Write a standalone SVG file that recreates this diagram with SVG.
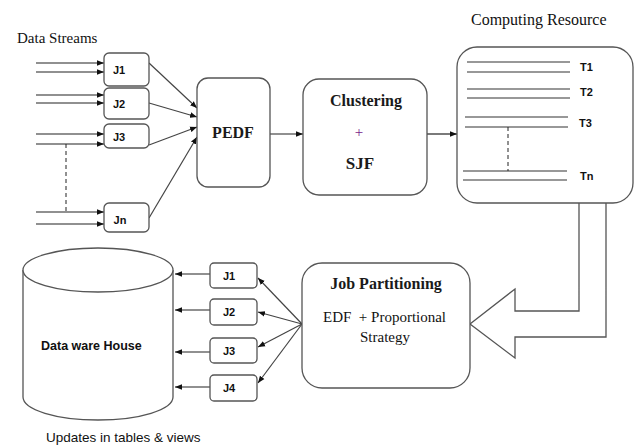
<svg xmlns="http://www.w3.org/2000/svg" width="635" height="445" viewBox="0 0 635 445">
<style>
.box{fill:#fff;stroke:#555;stroke-width:1.3}
.ln{stroke:#222;stroke-width:1.2;fill:none}
.gl{stroke:#444;stroke-width:1.2;fill:none}
.dash{stroke:#222;stroke-width:1;stroke-dasharray:4,3;fill:none}
.serif{font-family:"Liberation Serif",serif;fill:#111}
.sb{font-family:"Liberation Serif",serif;font-weight:bold;fill:#1a1a1a}
.sans{font-family:"Liberation Sans",Arial,sans-serif;fill:#111}
.jl{font-family:"Liberation Sans",Arial,sans-serif;font-weight:bold;font-size:11px;fill:#111}
</style>
<defs>
<marker id="ah" viewBox="0 0 10 10" refX="10" refY="5" markerWidth="7" markerHeight="7" orient="auto" markerUnits="userSpaceOnUse">
<path d="M0,1 L10,5 L0,9 z" fill="#111"/>
</marker>
</defs>
<rect width="635" height="445" fill="#fff"/>

<text class="serif" x="17" y="43" font-size="15">Data Streams</text>
<text class="serif" x="471" y="25" font-size="16">Computing Resource</text>
<text class="sans" x="46" y="442" font-size="13.5">Updates in tables &amp; views</text>

<g id="connectors">
<line class="ln" x1="36" y1="63" x2="104" y2="63" marker-end="url(#ah)"/>
<line class="ln" x1="36" y1="72" x2="104" y2="72" marker-end="url(#ah)"/>
<line class="ln" x1="36" y1="95" x2="104" y2="95" marker-end="url(#ah)"/>
<line class="ln" x1="36" y1="103" x2="104" y2="103" marker-end="url(#ah)"/>
<line class="ln" x1="36" y1="134" x2="104" y2="134" marker-end="url(#ah)"/>
<line class="ln" x1="36" y1="144" x2="104" y2="144" marker-end="url(#ah)"/>
<line class="ln" x1="36" y1="212" x2="104" y2="212" marker-end="url(#ah)"/>
<line class="ln" x1="36" y1="224" x2="104" y2="224" marker-end="url(#ah)"/>
<line class="dash" x1="66" y1="144" x2="66" y2="212"/>
<line class="gl" x1="149" y1="63" x2="197" y2="108" marker-end="url(#ah)"/>
<line class="gl" x1="149" y1="103" x2="197" y2="117" marker-end="url(#ah)"/>
<line class="gl" x1="149" y1="145" x2="197" y2="127" marker-end="url(#ah)"/>
<line class="gl" x1="149" y1="218" x2="197" y2="137" marker-end="url(#ah)"/>
<line class="ln" x1="270" y1="134" x2="303" y2="134" marker-end="url(#ah)"/>
<line class="ln" x1="427" y1="134" x2="457" y2="134" marker-end="url(#ah)"/>
<polyline points="579,203 579,311 515,311 515,289 470,324 515,358 515,337 606,337 606,203" fill="#fff" stroke="#555" stroke-width="1.3"/>
<line class="gl" x1="302" y1="324" x2="258" y2="278" marker-end="url(#ah)"/>
<line class="gl" x1="302" y1="324" x2="258" y2="312" marker-end="url(#ah)"/>
<line class="gl" x1="302" y1="324" x2="258" y2="347" marker-end="url(#ah)"/>
<line class="gl" x1="302" y1="324" x2="258" y2="383" marker-end="url(#ah)"/>
<line class="ln" x1="210" y1="274" x2="175" y2="274" marker-end="url(#ah)"/>
<line class="ln" x1="210" y1="310" x2="175" y2="310" marker-end="url(#ah)"/>
<line class="ln" x1="210" y1="352" x2="175" y2="352" marker-end="url(#ah)"/>
<line class="ln" x1="210" y1="387" x2="175" y2="387" marker-end="url(#ah)"/>
</g>

<g id="j1"><rect class="box" x="104" y="53" width="45" height="33" rx="5"/><text class="jl" x="119" y="74" text-anchor="middle">J1</text></g>
<g id="j2"><rect class="box" x="104" y="88" width="45" height="31" rx="5"/><text class="jl" x="119" y="108" text-anchor="middle">J2</text></g>
<g id="j3"><rect class="box" x="104" y="124" width="45" height="24" rx="5"/><text class="jl" x="119" y="141" text-anchor="middle">J3</text></g>
<g id="jn"><rect class="box" x="104" y="203" width="45" height="29" rx="5"/><text class="jl" x="120" y="224" text-anchor="middle">Jn</text></g>

<g id="pedf"><rect class="box" x="197" y="78" width="73" height="109" rx="11"/><text class="sb" x="233" y="138" font-size="16" text-anchor="middle">PEDF</text></g>

<g id="clustering"><rect class="box" x="303" y="79" width="124" height="116" rx="16"/>
<text class="sb" x="366" y="106" font-size="16" text-anchor="middle">Clustering</text>
<text class="serif" x="359" y="137" font-size="15" text-anchor="middle" style="fill:#7a1a8a">+</text>
<text class="sb" x="360" y="169" font-size="17" text-anchor="middle">SJF</text></g>

<g id="computing"><rect class="box" x="457" y="47" width="176" height="156" rx="20"/>
<g stroke="#333" stroke-width="1.2">
<line x1="467" y1="62" x2="570" y2="62"/><line x1="467" y1="72" x2="570" y2="72"/>
<line x1="467" y1="89" x2="570" y2="89"/><line x1="467" y1="98" x2="570" y2="98"/>
<line x1="465" y1="117" x2="568" y2="117"/><line x1="465" y1="127" x2="568" y2="127"/>
<line x1="463" y1="171" x2="567" y2="171"/><line x1="463" y1="180" x2="567" y2="180"/>
</g>
<line class="dash" x1="508" y1="127" x2="508" y2="171"/>
<text class="jl" x="580" y="71">T1</text>
<text class="jl" x="580" y="96">T2</text>
<text class="jl" x="579" y="127">T3</text>
<text class="jl" x="580" y="180">Tn</text></g>

<g id="jobpart"><rect class="box" x="302" y="263" width="168" height="125" rx="20"/>
<text class="sb" x="386" y="289" font-size="16" text-anchor="middle">Job Partitioning</text>
<text class="serif" x="323" y="322" font-size="15" xml:space="preserve">EDF  + Proportional</text>
<text class="serif" x="385" y="342" font-size="15" text-anchor="middle">Strategy</text></g>

<g id="bj1"><rect class="box" x="210" y="263" width="47" height="25" rx="4"/><text class="jl" x="229" y="280" text-anchor="middle">J1</text></g>
<g id="bj2"><rect class="box" x="210" y="299" width="47" height="26" rx="4"/><text class="jl" x="229" y="316" text-anchor="middle">J2</text></g>
<g id="bj3"><rect class="box" x="210" y="338" width="47" height="25" rx="4"/><text class="jl" x="229" y="355" text-anchor="middle">J3</text></g>
<g id="bj4"><rect class="box" x="210" y="375" width="47" height="26" rx="4"/><text class="jl" x="229" y="392" text-anchor="middle">J4</text></g>

<g id="warehouse">
<path d="M23,270 L23,397 A75,23 0 0 0 173,397 L173,270" fill="#fff" stroke="#555" stroke-width="1.3"/>
<ellipse cx="98" cy="270" rx="75" ry="22" fill="#fff" stroke="#555" stroke-width="1.3"/>
<text class="sans" x="41" y="350" font-size="12.5" font-weight="bold">Data ware House</text>
</g>
</svg>
